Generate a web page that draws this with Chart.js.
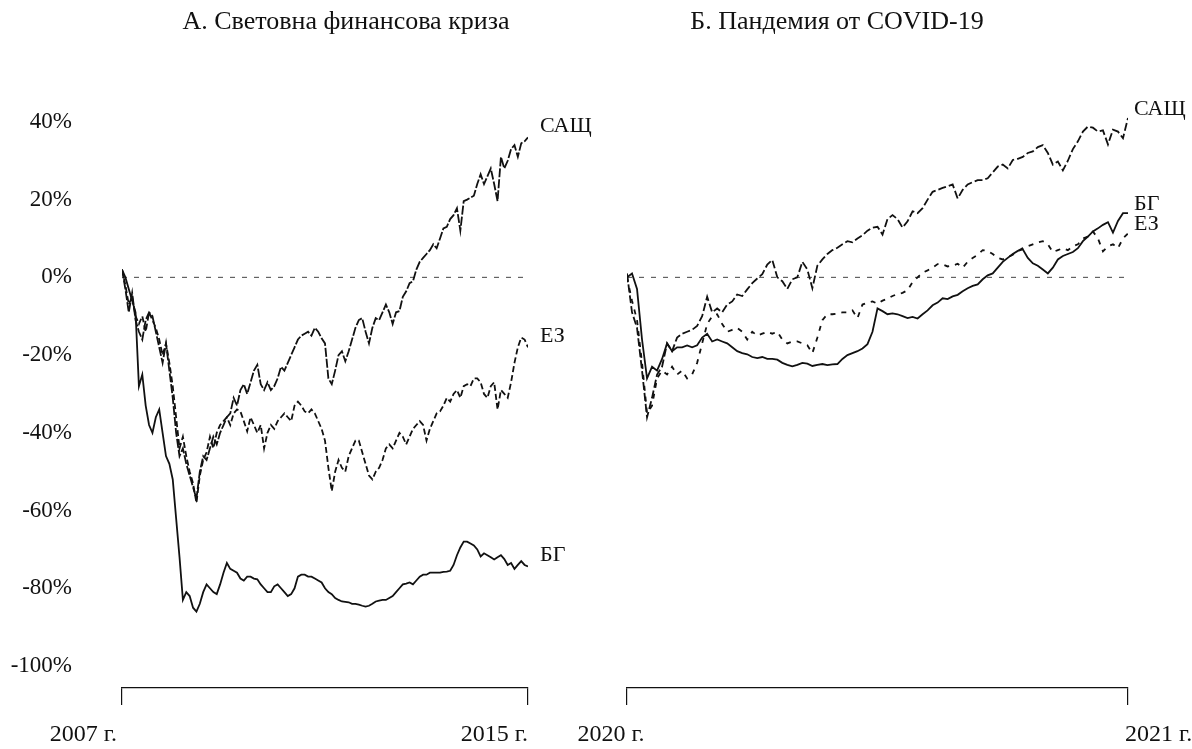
<!DOCTYPE html>
<html>
<head>
<meta charset="utf-8">
<script src="https://cdn.jsdelivr.net/npm/chart.js@4.4.1/dist/chart.umd.min.js"></script>
<style>
  body { margin: 0; background: #fff; }
  .wrap { position: relative; width: 1192px; height: 749px; }
  canvas { position: absolute; top: 0; }
  #crisis { left: 0; }
  #covid { left: 560px; }
</style>
</head>
<body>
<div class="wrap">
  <canvas id="crisis" width="600" height="749"></canvas>
  <canvas id="covid" width="632" height="749"></canvas>
</div>
<script>
// y axis, % change from the start of each period
const yTicks = [40, 20, 0, -20, -40, -60, -80, -100];

// A. 2007 - 2015
const crisisUSA = [2, -3, -9, -4, -11, -14, -16, -11, -9, -10, -14, -18, -22, -17, -24, -31, -40, -46, -44, -48,
  -51, -54, -57, -50, -46, -47, -44, -41, -43, -40, -38, -36, -35, -31, -33, -29, -27.5, -30, -27, -24,
  -22.5, -27.5, -29, -27, -29, -28, -26, -23, -24, -22, -20, -18, -16, -15, -14.5, -14, -15, -13, -14, -15.7,
  -17, -26, -27.5, -24, -20, -19, -21.6, -19, -16, -13, -11, -10.5, -14, -17, -13, -10.5, -11, -9, -7, -9,
  -12, -9, -8.7, -5, -3.6, -1.5, -1, 2, 4, 5, 6, 7, 8.5, 7.5, 10, 12.6, 13, 15, 16, 17.8,
  12, 19.6, 20, 20.5, 21, 24, 26.5, 24, 26, 28, 24, 19.6, 31, 28, 30, 33, 34, 31, 34.5, 35, 36];
const crisisEZ = [2, -2, -7, -5, -10, -12, -10, -14, -9, -11, -13, -16, -20, -17, -22, -28, -36, -44, -41, -46,
  -50, -53, -58, -51, -47, -45, -41, -44, -40, -38, -37, -36, -38, -35, -34, -34.5, -37, -39.6, -36, -38,
  -40, -38, -44, -40, -38, -39, -37, -36, -35, -36, -37, -33, -32, -33, -34.5, -35, -34, -35, -37, -39,
  -42, -49, -55, -50, -47, -49, -50, -46, -44, -42, -42, -45, -48, -51, -52, -50, -49, -47, -44, -43,
  -44, -42, -40, -41, -43, -41, -39, -38, -37, -38, -42, -39, -37, -35, -34.5, -33, -31, -32, -30, -29,
  -31, -28, -27.5, -28, -26, -26, -27, -30, -31, -28, -27, -34, -29, -30, -31, -27, -22, -18, -15.5, -16, -18];
const crisisBG = [2, 0, -3, -6, -9, -28, -25, -33, -38, -40, -36, -34, -40, -46, -48, -52, -62, -72, -83, -81,
  -82, -85, -86, -84, -81, -79, -80, -81, -81.5, -79, -76, -73.5, -75, -75.5, -76, -77.5, -78, -77, -77, -77.5,
  -77.7, -79, -80, -81, -81, -79.5, -79, -80, -81, -82, -81.5, -80, -77, -76.5, -76.5, -77, -77, -77.5, -78, -78.5,
  -80, -81, -81.5, -82.5, -83, -83.4, -83.5, -83.6, -84, -84, -84.2, -84.5, -84.7, -84.5, -84, -83.4, -83.2, -83, -83, -82.5,
  -82, -81, -80, -79, -78.8, -78.5, -79, -78, -77, -76.5, -76.5, -76, -76, -76, -76, -75.8, -75.7, -75.5, -74, -71.5,
  -69.5, -68, -68, -68.5, -69, -70, -71.8, -71, -71.5, -72, -72.6, -72, -71.5, -72.5, -74, -73.5, -75, -74, -73, -74, -74.4];

// Б. 2020 - 2021
const covidUSA = [1, -9, -13, -24, -36, -31, -25, -23, -17, -19, -15.5, -14.5, -14, -13.5, -12.5, -10, -5, -9, -8, -9,
  -7, -6.2, -4.4, -4.8, -3.1, -1.5, -0.3, 0.8, 3.3, 4.5, 0, -1, -3, -0.5, 0, 4, 2, -2.8, 3, 4.6,
  6, 7, 7.6, 8.5, 9.3, 9, 10, 10.8, 12, 12.8, 13, 11, 15, 16, 15, 12.8, 14.4, 17, 16.5, 17.8,
  20, 22, 22.5, 23, 23.4, 23.9, 20.3, 22.5, 23.9, 24.5, 25, 25, 25.5, 27, 28.5, 29, 28, 30.2, 30.5, 31,
  32, 32.4, 33.5, 34, 32, 29, 29.8, 27.5, 30, 33, 35, 37.5, 38.8, 38.5, 37.5, 37.8, 34.2, 38, 37.5, 35.8, 41];
const covidEZ = [0, -6, -11, -22, -35, -33, -26, -24, -25, -23, -25, -24, -26, -25, -22, -17, -12, -10, -9.5, -12,
  -14, -13.5, -13, -14, -16, -14, -15, -14.5, -14, -14.5, -14, -16, -17, -16.5, -16.5, -17, -17.5, -19.5, -15.5, -11,
  -9.5, -9.5, -9.3, -9, -9, -8.5, -10.5, -7, -6.5, -6.2, -6.8, -6, -5.5, -4.8, -4.3, -4, -3.3, -1.2, 0, 1.2,
  1.8, 2.5, 3.4, 3.3, 2.8, 3, 3.5, 2.5, 4, 5, 5.8, 7, 6.8, 6, 5, 4.6, 5.2, 5.8, 6.8, 7.5,
  8, 8.5, 9, 9.3, 8.5, 6.5, 7, 7.5, 7, 8, 8.5, 10, 10.5, 11.8, 10, 6.7, 8, 8.5, 7.5, 10, 11.3];
const covidBG = [0, 1, -3, -16, -26, -23, -24, -21, -17, -19, -18, -18, -17.5, -18, -17.5, -15.5, -14.5, -16.5, -16, -16.5,
  -17, -18, -19, -19.5, -19.8, -20.5, -20.8, -20.5, -21, -21, -21.2, -22, -22.5, -22.9, -22.5, -22, -22.2, -22.8, -22.5, -22.3,
  -22.6, -22.4, -22.3, -21, -20, -19.5, -19, -18.3, -17.2, -14, -8, -8.7, -9.5, -9.3, -9.5, -10, -10.5, -10.2, -10.6, -9.5,
  -8.5, -7.2, -6.5, -5.4, -5.6, -4.9, -4.5, -3.6, -2.8, -2.2, -1.8, -0.5, 0.5, 1, 2.5, 4, 5, 6, 6.8, 7.2,
  5, 3.6, 3, 2, 1, 2.5, 4.6, 5.5, 6, 6.5, 7.5, 9.3, 10.5, 11.8, 12.6, 13.5, 14.2, 11.5, 14.5, 16.5, 16.5];

const SERIF = '"Liberation Serif", "Times New Roman", serif';
const INK = '#111';

// series name written just after the last point of each line
const endLabels = {
  id: 'endLabels',
  afterDatasetsDraw(chart, args, opts) {
    const ctx = chart.ctx;
    ctx.save();
    ctx.font = '22px ' + SERIF;
    ctx.fillStyle = INK;
    ctx.textBaseline = 'middle';
    ctx.textAlign = 'left';
    chart.data.datasets.forEach((ds, i) => {
      if (!ds.endLabel) return;
      const pts = chart.getDatasetMeta(i).data;
      const last = pts[pts.length - 1];
      ctx.fillText(ds.endLabel, last.x + opts.dx, last.y + opts.dy);
    });
    ctx.restore();
  }
};

// panel title and the two year labels under the bracket
const panelText = {
  id: 'panelText',
  afterDraw(chart, args, opts) {
    const ctx = chart.ctx;
    const xs = chart.scales.x;
    ctx.save();
    ctx.fillStyle = INK;
    ctx.textBaseline = 'middle';
    ctx.textAlign = 'center';
    ctx.font = opts.titleSize + 'px ' + SERIF;
    ctx.fillText(opts.title, opts.titleX, 22);
    ctx.font = '24px ' + SERIF;
    opts.xLabels.forEach(l => {
      ctx.textAlign = l.align;
      ctx.fillText(l.text, xs.getPixelForValue(l.value) + l.dx, 735);
    });
    ctx.restore();
  }
};

function makePanel(id, series, cfg) {
  const last = series[0].values.length - 1;
  const datasets = series.map(s => ({
    data: s.values.map((v, i) => ({ x: i, y: v })),
    endLabel: s.name,
    borderColor: INK,
    borderWidth: 1.8,
    borderDash: s.dash,
    pointRadius: 0,
    tension: 0
  }));
  // zero reference line
  datasets.push({
    data: [{ x: 0, y: 0 }, { x: last, y: 0 }],
    borderColor: '#444',
    borderWidth: 1,
    borderDash: [5, 7],
    pointRadius: 0
  });

  return new Chart(document.getElementById(id), {
    type: 'line',
    data: { datasets },
    plugins: [endLabels, panelText],
    options: {
      responsive: false,
      animation: false,
      layout: { padding: { top: 90, left: cfg.padLeft, right: cfg.padRight, bottom: 0 } },
      plugins: {
        legend: { display: false },
        tooltip: { enabled: false },
        endLabels: cfg.labelShift,
        panelText: { title: cfg.title, titleX: cfg.titleX, titleSize: 26, xLabels: cfg.xLabels(last) }
      },
      scales: {
        x: {
          type: 'linear',
          min: 0,
          max: last,
          afterBuildTicks: s => { s.ticks = [{ value: 0 }, { value: last }]; },
          afterFit: s => { s.height = 61; },
          grid: { drawOnChartArea: false, drawTicks: true, tickLength: 17, color: INK, lineWidth: 1.2 },
          border: { display: true, color: INK, width: 1.2 },
          ticks: { display: false }
        },
        y: {
          display: cfg.showY,
          min: -105.66,
          max: 48.2,
          afterBuildTicks: s => { s.ticks = yTicks.map(v => ({ value: v })); },
          // fixed gutter; the label padding must not push the bottom axis up
          afterFit: s => {
            if (cfg.showY) s.width = 122;
            s.paddingTop = 0;
            s.paddingBottom = 0;
          },
          grid: { display: false, drawTicks: false },
          border: { display: false },
          ticks: {
            padding: 50,
            color: INK,
            font: { family: SERIF, size: 23 },
            callback: v => v + '%'
          }
        }
      }
    }
  });
}

makePanel('crisis', [
  { name: 'САЩ', values: crisisUSA, dash: [9, 2] },
  { name: 'ЕЗ', values: crisisEZ, dash: [6, 3] },
  { name: 'БГ', values: crisisBG, dash: [] }
], {
  title: 'А. Световна финансова криза',
  titleX: 346,
  padLeft: 0,
  padRight: 72,
  showY: true,
  labelShift: { dx: 12, dy: -11 },
  xLabels: last => [
    { text: '2007 г.', value: 0, align: 'right', dx: -5 },
    { text: '2015 г.', value: last, align: 'right', dx: 0 }
  ]
});

makePanel('covid', [
  { name: 'САЩ', values: covidUSA, dash: [8, 3] },
  { name: 'БГ', values: covidBG, dash: [] },
  { name: 'ЕЗ', values: covidEZ, dash: [5, 6] }
], {
  title: 'Б. Пандемия от COVID-19',
  titleX: 277,
  padLeft: 67,
  padRight: 64,
  showY: false,
  labelShift: { dx: 6, dy: -9 },
  xLabels: last => [
    { text: '2020 г.', value: 0, align: 'center', dx: -16 },
    { text: '2021 г.', value: last, align: 'left', dx: -3 }
  ]
});
</script>
</body>
</html>
